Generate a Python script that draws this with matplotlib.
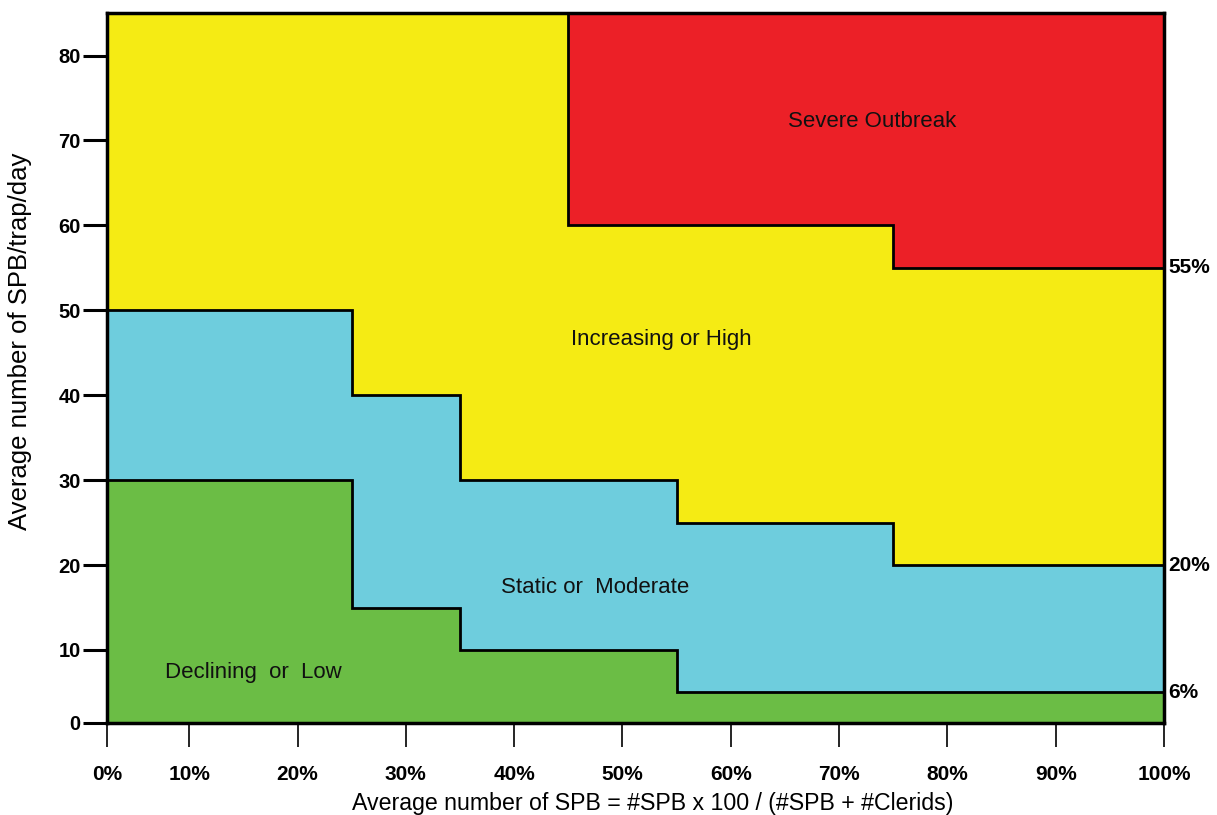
import numpy as np
import matplotlib

matplotlib.use("Agg")
import matplotlib.pyplot as plt

# zone boundaries (x in %, y in SPB/trap/day)
green_edges = [0, 25, 35, 55, 100]
green_top = [30, 15, 10, 5]

blue_edges = [0, 25, 35, 55, 75, 100]
blue_top = [50, 40, 30, 25, 20]

red_edges = [45, 75, 100]
red_bottom = [60, 55]

y_max = 85

zone_names = ["Severe Outbreak", "Increasing or High", "Static or  Moderate", "Declining  or  Low"]
zone_pos = [(73.1, 72.2), (53.6, 46.6), (47.5, 17.3), (15.9, 7.3)]

right_labels = ["55%", "20%", "6%"]
right_label_y = [55, 20, 5]

x_ticks = [0, 10, 20, 30, 40, 50, 60, 70, 80, 90, 100]
x_tick_labels = [f"{v}%" for v in x_ticks]
y_ticks = [0, 10, 20, 30, 40, 50, 60, 70, 80]

# the original axes start a little past zero; the "0" ticks sit on the frame corner
x_lo = 2.4
y_lo = 1.4

col_yellow = "#F5EB14"
col_blue = "#6ECDDD"
col_green = "#6BBD45"
col_red = "#EC2027"

sans = ["Liberation Sans", "DejaVu Sans"]

fig = plt.figure(figsize=(12.17, 8.15), dpi=100)
ax = fig.add_axes([0.0879, 0.1129, 0.8685, 0.871])
ax.set_facecolor(col_yellow)

ax.stairs(blue_top, blue_edges, baseline=0, fill=True, color=col_blue, zorder=1)
ax.stairs(green_top, green_edges, baseline=0, fill=True, color=col_green, zorder=1)
ax.stairs(red_bottom, red_edges, baseline=y_max, fill=True, color=col_red, zorder=1)

ax.stairs(blue_top, blue_edges, baseline=None, color="black", lw=2, zorder=2)
ax.stairs(green_top, green_edges, baseline=None, color="black", lw=2, zorder=2)
ax.stairs(red_bottom, red_edges, baseline=y_max, color="black", lw=2, zorder=2)

ax.set_xlim(x_lo, 100)
ax.set_ylim(y_lo, y_max)

ax.set_xticks([x_lo] + x_ticks[1:])
ax.set_xticklabels(x_tick_labels, fontsize=15, fontweight="bold", family=sans)
ax.set_yticks([y_lo] + y_ticks[1:])
ax.set_yticklabels([str(v) for v in y_ticks], fontsize=14.5, fontweight="bold", family=sans)

ax.tick_params(axis="x", direction="out", length=17, width=1.2, pad=13)
ax.tick_params(axis="y", direction="out", length=17, width=2.2, pad=2)

for s in ax.spines.values():
    s.set_linewidth(2.5)
    s.set_color("black")
    s.set_zorder(3)

for name, (x, y) in zip(zone_names, zone_pos):
    ax.text(x, y, name, ha="center", va="center", fontsize=16,
            family=sans, color="#111111", zorder=4)

for lab, y in zip(right_labels, right_label_y):
    ax.text(100.4, y, lab, ha="left", va="center", fontsize=15, fontweight="bold",
            family=sans, clip_on=False)

ax.set_xlabel("Average number of SPB = #SPB x 100 / (#SPB + #Clerids)", fontsize=16.7,
              family=sans)
ax.xaxis.set_label_coords(0.516, -0.097)
ax.set_ylabel("Average number of SPB/trap/day", fontsize=18.5, family=sans)
ax.yaxis.set_label_coords(-0.071, 0.538)

fig.savefig("out.png", dpi=100)
plt.close(fig)
